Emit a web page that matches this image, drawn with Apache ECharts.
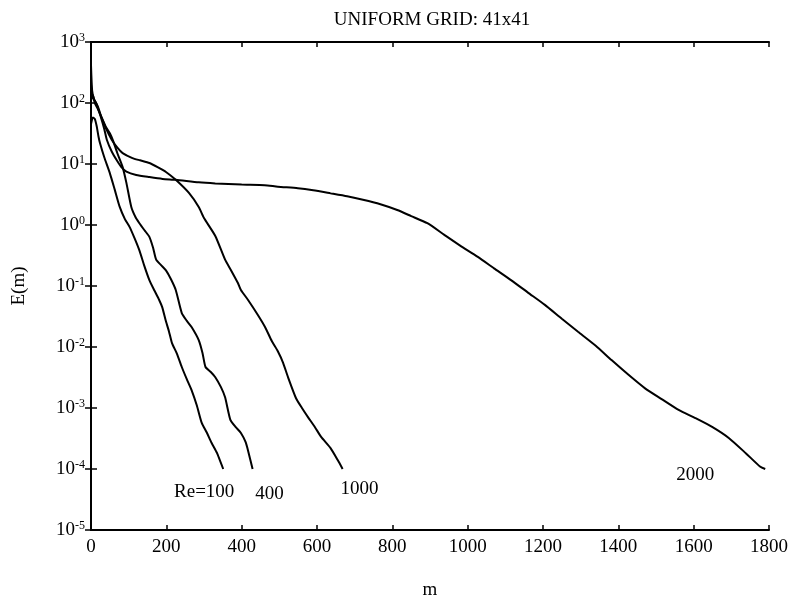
<!DOCTYPE html>
<html>
<head>
<meta charset="utf-8">
<script src="https://cdn.jsdelivr.net/npm/echarts@6/dist/echarts.min.js"></script>
<style>
  html, body { margin: 0; padding: 0; background: #fff; }
  #chart { width: 790px; height: 596px; }
</style>
</head>
<body>
<div id="chart"></div>
<script>
// Error norm E(m) against iteration count m, one curve per Reynolds number
const titleText = 'UNIFORM GRID: 41x41';
const xTicks = [0, 200, 400, 600, 800, 1000, 1200, 1400, 1600, 1800];
const yDecades = [-5, -4, -3, -2, -1, 0, 1, 2, 3];

const re100M = [0, 5, 10, 15, 20, 24, 35, 50, 63, 76, 90, 102, 115, 128, 142, 155, 168, 181, 189, 198, 207, 215, 228, 241, 254, 267, 281, 294, 307, 320, 335, 351];
const re100E = [45, 58, 55, 42, 28, 21.8, 13, 7.1, 3.8, 2.0, 1.25, 0.94, 0.62, 0.39, 0.21, 0.125, 0.085, 0.059, 0.045, 0.0277, 0.018, 0.0116, 0.0078, 0.0047, 0.003, 0.00197, 0.0011, 0.00057, 0.0004, 0.00027, 0.00018, 0.0001];

const re400M = [0, 5, 10, 18, 28, 40, 50, 58, 70, 84, 94, 107, 118, 128, 142, 155, 165, 173, 186, 199, 212, 225, 241, 254, 267, 286, 296, 304, 318, 330, 345, 356, 370, 385, 398, 410, 417, 429];
const re400E = [110, 135, 100, 80, 58, 40, 32, 24.7, 15, 8.9, 4.9, 1.97, 1.35, 1.08, 0.82, 0.64, 0.42, 0.27, 0.22, 0.18, 0.13, 0.086, 0.036, 0.027, 0.0213, 0.013, 0.008, 0.0047, 0.0039, 0.0032, 0.0022, 0.0015, 0.00064, 0.00048, 0.00039, 0.00028, 0.0002, 0.0001];

const re1000M = [0, 4, 10, 18, 28, 40, 55, 70, 84, 110, 130, 155, 178, 199, 225, 260, 286, 300, 330, 356, 372, 390, 398, 417, 443, 462, 480, 496, 510, 523, 544, 560, 576, 595, 611, 636, 655, 668];
const re1000E = [200, 125, 110, 88, 58, 38, 25, 18.5, 15.1, 12.5, 11.5, 10.4, 8.8, 7.4, 5.5, 3.35, 1.97, 1.3, 0.66, 0.27, 0.18, 0.112, 0.086, 0.059, 0.0335, 0.0213, 0.0125, 0.0085, 0.0055, 0.0032, 0.00146, 0.001, 0.00071, 0.00048, 0.000335, 0.00022, 0.00014, 0.0001];

const re2000M = [0, 3, 8, 15, 25, 35, 42, 55, 68, 80, 94, 120, 155, 190, 225, 286, 330, 400, 461, 496, 549, 590, 636, 680, 725, 760, 813, 850, 893, 938, 980, 1027, 1070, 1115, 1160, 1205, 1250, 1293, 1340, 1382, 1427, 1471, 1515, 1560, 1605, 1649, 1694, 1739, 1776, 1790];
const re2000E = [420, 160, 115, 95, 62, 38, 25, 16, 11.6, 9, 7.5, 6.6, 6.1, 5.7, 5.5, 5.0, 4.8, 4.6, 4.5, 4.25, 4.0, 3.7, 3.3, 2.95, 2.57, 2.27, 1.76, 1.4, 1.07, 0.69, 0.46, 0.30, 0.195, 0.125, 0.078, 0.049, 0.029, 0.0178, 0.0105, 0.0061, 0.0035, 0.0021, 0.0014, 0.00093, 0.00068, 0.00049, 0.00032, 0.00018, 0.00011, 0.0001];

const curveLabels = ['Re=100', '400', '1000', '2000'];

const FONT = "'Liberation Serif', 'DejaVu Serif', serif";
const INK = '#000';

function zip(ms, es) { return ms.map((m, i) => [m, es[i]]); }

function curve(name, ms, es, labelOffset) {
  const data = zip(ms, es);
  return {
    name: name,
    type: 'line',
    data: data,
    xAxisIndex: 0,
    yAxisIndex: 0,
    showSymbol: false,
    smooth: 0.2,
    lineStyle: { color: INK, width: 2 },
    animation: false,
    markPoint: {
      symbol: 'circle',
      symbolSize: 1,
      itemStyle: { color: 'rgba(0,0,0,0)' },
      label: {
        show: true,
        position: 'inside',
        offset: labelOffset,
        formatter: name,
        color: INK,
        fontFamily: FONT,
        fontSize: 19
      },
      data: [{ coord: data[data.length - 1] }]
    }
  };
}

const supLabel = {
  formatter: function (v) {
    const e = Math.round(Math.log10(v));
    return '{b|10}{s|' + e + '}';
  },
  rich: {
    b: { fontFamily: FONT, fontSize: 19, color: INK, lineHeight: 20 },
    s: { fontFamily: FONT, fontSize: 12, color: INK, verticalAlign: 'top', lineHeight: 14 }
  },
  margin: 6
};

const chart = echarts.init(document.getElementById('chart'), null, { renderer: 'canvas' });
chart.setOption({
  backgroundColor: '#fff',
  animation: false,
  title: {
    text: titleText,
    left: 427,
    top: 6,
    textAlign: 'center',
    textStyle: { fontFamily: FONT, fontSize: 19, fontWeight: 'normal', color: INK }
  },
  grid: { left: 91, right: 21, top: 42, bottom: 66, containLabel: false, outerBoundsMode: 'none' },
  xAxis: [
    {
      type: 'value',
      min: xTicks[0],
      max: xTicks[xTicks.length - 1],
      interval: 200,
      name: 'm',
      nameLocation: 'middle',
      nameGap: 51,
      nameTextStyle: { fontFamily: FONT, fontSize: 19, color: INK },
      axisLine: { lineStyle: { color: INK, width: 2 } },
      axisTick: { inside: true, length: 5, lineStyle: { color: INK, width: 1.5 } },
      axisLabel: { fontFamily: FONT, fontSize: 19, color: INK, margin: 8, formatter: (v) => String(v) },
      splitLine: { show: false }
    },
    {
      type: 'value',
      position: 'top',
      min: xTicks[0],
      max: xTicks[xTicks.length - 1],
      interval: 200,
      axisLine: { lineStyle: { color: INK, width: 2 } },
      axisTick: { inside: true, length: 5, lineStyle: { color: INK, width: 1.5 } },
      axisLabel: { show: false },
      splitLine: { show: false }
    }
  ],
  yAxis: [
    {
      type: 'log',
      logBase: 10,
      min: Math.pow(10, yDecades[0]),
      max: Math.pow(10, yDecades[yDecades.length - 1]),
      interval: 1,
      splitNumber: 8,
      name: 'E(m)',
      nameLocation: 'middle',
      nameGap: 62,
      nameRotate: 90,
      nameTextStyle: { fontFamily: FONT, fontSize: 19, color: INK },
      axisLine: { show: true, lineStyle: { color: INK, width: 2 } },
      axisTick: { inside: true, length: 6, lineStyle: { color: INK, width: 1.5 } },
      minorTick: { show: false },
      axisLabel: supLabel,
      splitLine: { show: false }
    },
    {
      type: 'log',
      logBase: 10,
      position: 'right',
      min: Math.pow(10, yDecades[0]),
      max: Math.pow(10, yDecades[yDecades.length - 1]),
      interval: 1,
      splitNumber: 8,
      axisLine: { show: true, lineStyle: { color: INK, width: 2 } },
      axisTick: { inside: true, length: 6, lineStyle: { color: INK, width: 1.5 } },
      axisLabel: { show: false },
      splitLine: { show: false }
    }
  ],
  series: [
    curve(curveLabels[0], re100M, re100E, [-19, 23]),
    curve(curveLabels[1], re400M, re400E, [17, 25]),
    curve(curveLabels[2], re1000M, re1000E, [17, 20]),
    curve(curveLabels[3], re2000M, re2000E, [-70, 6])
  ]
});
</script>
</body>
</html>
